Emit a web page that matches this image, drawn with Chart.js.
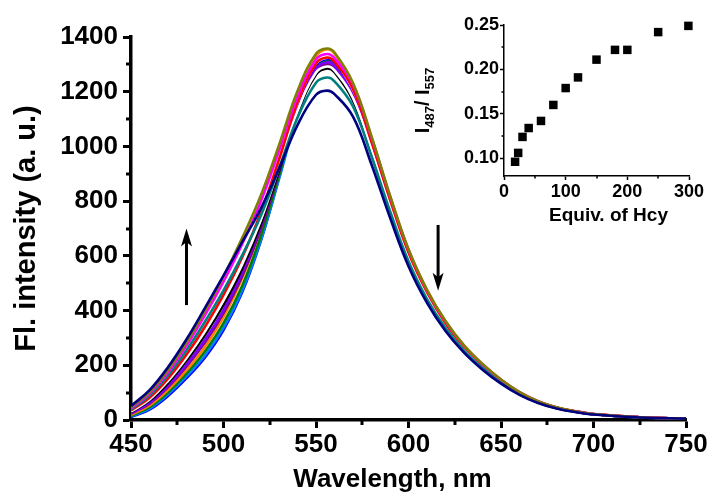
<!DOCTYPE html>
<html>
<head>
<meta charset="utf-8">
<script src="https://cdn.jsdelivr.net/npm/chart.js@4/dist/chart.umd.min.js"></script>
<style>
html, body { margin: 0; padding: 0; background: #fff; }
#wrap { position: relative; width: 712px; height: 500px; }
#chart { position: absolute; left: 0; top: 0; }
#inset { position: absolute; left: 400px; top: 0; }
</style>
</head>
<body>
<div id="wrap">
  <canvas id="chart" width="712" height="500"></canvas>
  <canvas id="inset" width="312" height="240"></canvas>
</div>
<script>
// emission spectra, Fl. intensity vs wavelength (nm)
const wavelength = [450,460,470,480,490,500,510,520,530,540,550,556,560,570,580,590,600,610,620,630,640,650,660,670,680,690,700,725,750];

const navy    = [51,109,193,295,410,528,649,771,919,1078,1189,1204,1191,1109,934,740,562,428,325,246,184,133,92,62,42,29,20,9,5];
const olive   = [47,102,183,283,399,525,664,818,1005,1203,1339,1358,1343,1232,1037,821,624,476,362,273,205,148,102,69,47,32,22,10,5];
const magenta = [43,97,174,271,383,506,642,796,984,1182,1318,1338,1323,1227,1033,818,622,474,360,272,204,147,102,69,46,32,22,10,5];
const teal    = [39,89,163,255,360,474,601,744,920,1105,1233,1252,1238,1146,964,764,580,442,336,254,190,137,95,64,43,30,21,9,5];
const red     = [35,81,151,239,341,457,593,755,953,1161,1303,1325,1310,1209,1017,806,612,467,354,268,201,145,100,68,46,32,22,10,5];
const white   = [31,75,143,227,324,437,568,728,924,1129,1270,1292,1278,1177,990,784,596,454,345,261,195,141,98,66,44,31,21,10,5];
const black   = [29,70,135,217,311,421,552,713,912,1120,1263,1285,1271,1168,983,779,592,451,342,259,194,140,97,65,44,31,21,10,5];
const violet  = [25,63,125,203,293,402,537,706,917,1135,1284,1308,1294,1186,998,791,601,458,348,263,197,142,98,66,45,31,21,10,5];
const purple  = [23,60,120,196,284,391,524,694,906,1126,1276,1300,1286,1177,991,785,596,454,345,261,195,141,98,66,44,31,21,10,5];
const orange  = [19,53,110,182,268,376,516,700,931,1167,1329,1355,1340,1224,1030,816,620,472,359,271,203,147,101,68,46,32,22,10,5];
const green   = [15,47,101,170,251,354,489,669,894,1125,1284,1310,1296,1181,994,787,598,456,346,262,196,142,98,66,45,31,21,10,5];
const sky     = [13,42,94,160,237,338,472,653,880,1114,1273,1300,1286,1170,985,780,593,452,343,259,194,140,97,65,44,31,21,10,5];
const blue    = [11,38,88,153,229,329,465,651,885,1124,1288,1315,1301,1182,995,788,599,456,347,262,196,142,98,66,45,31,21,10,5];

const spectra = [
    {color: '#000080', values: navy},
    {color: '#808000', values: olive},
    {color: '#FF00FF', values: magenta},
    {color: '#008080', values: teal},
    {color: '#FF0000', values: red},
    {color: '#FFFFFF', values: white},
    {color: '#000000', values: black},
    {color: '#8000FF', values: violet},
    {color: '#800080', values: purple},
    {color: '#FF8000', values: orange},
    {color: '#008000', values: green},
    {color: '#0080FF', values: sky},
    {color: '#0000FF', values: blue},
];

const xTicks = [450,500,550,600,650,700,750];
const xMinor = [475,525,575,625,675,725];
const yTicks = [0,200,400,600,800,1000,1200,1400];
const yMinor = [100,300,500,700,900,1100,1300];

// arrows: wavelength, from intensity, to intensity
const arrows = [
    {x: 480, from: 420, to: 700},
    {x: 616, from: 713, to: 472},
];

// inset: I487/I557 vs equiv. of Hcy
const equiv = [18,23,30,40,60,80,100,120,150,180,200,250,299];
const ratio = [0.096,0.106,0.124,0.134,0.142,0.160,0.179,0.191,0.211,0.222,0.222,0.242,0.249];
const inXTicks = [0,100,200,300];
const inXMinor = [50,150,250];
const inYTicks = [0.10,0.15,0.20,0.25];
const inYMinor = [0.125,0.175,0.225];

const FONT = '"Liberation Sans", Arial, sans-serif';

const minorTicks = {
    id: 'minorTicks',
    afterDraw(chart, args, opts) {
        const {ctx, chartArea} = chart;
        const x = chart.scales.x, y = chart.scales.y;
        ctx.save();
        ctx.strokeStyle = '#000';
        ctx.lineWidth = opts.width;
        ctx.beginPath();
        opts.x.forEach(v => {
            const px = Math.round(x.getPixelForValue(v));
            ctx.moveTo(px, chartArea.bottom);
            ctx.lineTo(px, chartArea.bottom + opts.len);
        });
        opts.y.forEach(v => {
            const py = Math.round(y.getPixelForValue(v));
            ctx.moveTo(chartArea.left, py);
            ctx.lineTo(chartArea.left - opts.len, py);
        });
        ctx.stroke();
        ctx.restore();
    }
};

// x axis title, placed a little off the axis centre like the original
const xTitle = {
    id: 'xTitle',
    afterDraw(chart, args, opts) {
        const {ctx, chartArea} = chart;
        ctx.save();
        ctx.font = 'bold ' + opts.size + 'px ' + FONT;
        ctx.fillStyle = '#000';
        ctx.textAlign = 'center';
        ctx.textBaseline = 'middle';
        ctx.fillText(opts.text, (chartArea.left + chartArea.right) / 2 + opts.dx, chart.height - opts.fromBottom);
        ctx.restore();
    }
};

const arrowPlugin = {
    id: 'arrows',
    afterDatasetsDraw(chart) {
        const {ctx} = chart;
        const x = chart.scales.x, y = chart.scales.y;
        ctx.save();
        ctx.strokeStyle = '#000';
        ctx.fillStyle = '#000';
        ctx.lineWidth = 3;
        arrows.forEach(a => {
            const px = x.getPixelForValue(a.x);
            const y0 = y.getPixelForValue(a.from);
            const y1 = y.getPixelForValue(a.to);
            const dir = y1 < y0 ? -1 : 1;
            const head = 18;
            ctx.beginPath();
            ctx.moveTo(px, y0);
            ctx.lineTo(px, y1 - dir * head * 0.6);
            ctx.stroke();
            ctx.beginPath();
            ctx.moveTo(px, y1);
            ctx.lineTo(px - 5.5, y1 - dir * head);
            ctx.lineTo(px, y1 - dir * head * 0.75);
            ctx.lineTo(px + 5.5, y1 - dir * head);
            ctx.closePath();
            ctx.fill();
        });
        ctx.restore();
    }
};

new Chart(document.getElementById('chart'), {
    type: 'line',
    data: {
        datasets: spectra.map(s => ({
            data: wavelength.map((w, i) => ({x: w, y: s.values[i]})),
            borderColor: s.color,
            borderWidth: 2.6,
            pointRadius: 0,
            fill: false,
            tension: 0.4,
        }))
    },
    options: {
        responsive: false,
        animation: false,
        events: [],
        layout: {padding: {top: 37, right: 26, left: 0, bottom: 0}},
        plugins: {
            legend: {display: false},
            tooltip: {enabled: false},
            minorTicks: {x: xMinor, y: yMinor, len: 5, width: 3},
            xTitle: {text: 'Wavelength, nm', size: 26, dx: -16, fromBottom: 20.6},
        },
        scales: {
            x: {
                type: 'linear',
                min: 450, max: 750,
                afterBuildTicks: s => { s.ticks = xTicks.map(v => ({value: v})); },
                afterFit: s => { s.height = 80; },
                border: {display: true, color: '#000', width: 3.5},
                grid: {drawOnChartArea: false, drawTicks: true, tickLength: 8, tickWidth: 3, tickColor: '#000'},
                ticks: {
                    color: '#000', padding: 1,
                    font: {family: FONT, size: 26, weight: 'bold'},
                    callback: v => String(v),
                },
            },
            y: {
                type: 'linear',
                min: 0, max: 1400,
                afterBuildTicks: s => { s.ticks = yTicks.map(v => ({value: v})); },
                afterFit: s => { s.width = 131; },
                border: {display: true, color: '#000', width: 3.5},
                grid: {drawOnChartArea: false, drawTicks: true, tickLength: 8, tickWidth: 3, tickColor: '#000'},
                ticks: {
                    color: '#000', padding: 5,
                    font: {family: FONT, size: 26, weight: 'bold'},
                    callback: v => String(v),
                },
                title: {
                    display: true, text: 'Fl. intensity (a. u.)', color: '#000',
                    font: {family: FONT, size: 29, weight: 'bold'},
                    padding: {top: 10, bottom: 0},
                },
            },
        },
    },
    plugins: [minorTicks, arrowPlugin, xTitle],
});

// rotated y title with subscripts for the inset
const insetTitle = {
    id: 'insetTitle',
    afterDraw(chart) {
        const {ctx, chartArea} = chart;
        const parts = [
            {t: 'I', size: 20, sub: false},
            {t: '487', size: 13, sub: true},
            {t: '/ I', size: 20, sub: false},
            {t: '557', size: 13, sub: true},
        ];
        ctx.save();
        let total = 0;
        parts.forEach(p => {
            ctx.font = 'bold ' + p.size + 'px ' + FONT;
            p.w = ctx.measureText(p.t).width;
            total += p.w;
        });
        ctx.translate(29, (chartArea.top + chartArea.bottom) / 2);
        ctx.rotate(-Math.PI / 2);
        ctx.fillStyle = '#000';
        ctx.textBaseline = 'alphabetic';
        let cx = -total / 2;
        parts.forEach(p => {
            ctx.font = 'bold ' + p.size + 'px ' + FONT;
            ctx.fillText(p.t, cx, p.sub ? 5 : 0);
            cx += p.w;
        });
        ctx.restore();
    }
};

const insetMinor = {
    id: 'minorTicks',
    afterDraw: minorTicks.afterDraw,
};

const insetXTitle = {
    id: 'xTitle',
    afterDraw: xTitle.afterDraw,
};

new Chart(document.getElementById('inset'), {
    type: 'scatter',
    data: {
        datasets: [{
            data: equiv.map((e, i) => ({x: e, y: ratio[i]})),
            pointStyle: 'rect',
            pointRadius: 6,
            backgroundColor: '#000',
            borderColor: '#000',
            borderWidth: 0,
            clip: false,
        }]
    },
    options: {
        responsive: false,
        animation: false,
        events: [],
        layout: {padding: {top: 25, right: 23, left: 0, bottom: 0}},
        plugins: {
            legend: {display: false},
            tooltip: {enabled: false},
            minorTicks: {x: inXMinor, y: inYMinor, len: 2.5, width: 1.5},
            xTitle: {text: 'Equiv. of Hcy', size: 19, dx: 12, fromBottom: 24.4},
        },
        scales: {
            x: {
                type: 'linear',
                min: 0, max: 300,
                afterBuildTicks: s => { s.ticks = inXTicks.map(v => ({value: v})); },
                afterFit: s => { s.height = 64; },
                border: {display: true, color: '#000', width: 1.5},
                grid: {drawOnChartArea: false, drawTicks: true, tickLength: 4, tickWidth: 1.5, tickColor: '#000'},
                ticks: {
                    color: '#000', padding: 1,
                    font: {family: FONT, size: 18, weight: 'bold'},
                    callback: v => String(v),
                },
            },
            y: {
                type: 'linear',
                min: 0.08, max: 0.25,
                afterBuildTicks: s => { s.ticks = inYTicks.map(v => ({value: v})); },
                afterFit: s => { s.width = 104; },
                border: {display: true, color: '#000', width: 1.5},
                grid: {drawOnChartArea: false, drawTicks: true, tickLength: 4, tickWidth: 1.5, tickColor: '#000'},
                ticks: {
                    color: '#000', padding: 1,
                    font: {family: FONT, size: 18, weight: 'bold'},
                    callback: v => v.toFixed(2),
                },
            },
        },
    },
    plugins: [insetMinor, insetTitle, insetXTitle],
});
</script>
</body>
</html>
